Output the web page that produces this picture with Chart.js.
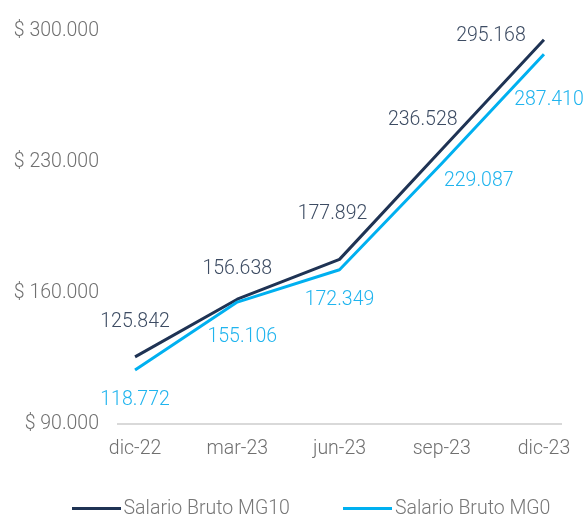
<!DOCTYPE html>
<html>
<head>
<meta charset="utf-8">
<script src="https://cdn.jsdelivr.net/npm/chart.js"></script>
<style>
  body { margin: 0; background: #fff; }
  #wrap { position: relative; width: 585px; height: 515px; }
  #legend {
    position: absolute; left: 0; top: 496px; width: 585px; box-sizing: border-box;
    padding-left: 37px; display: flex; justify-content: center; gap: 53px;
    font: 300 19.5px Roboto, sans-serif; color: #767676;
  }
  #legend .item { display: flex; align-items: center; gap: 3px; line-height: 24px; }
  #legend .swatch { width: 49px; height: 3px; }
</style>
</head>
<body>
<div id="wrap">
  <canvas id="myChart" width="585" height="515"></canvas>
  <div id="legend"></div>
</div>
<script>
// periods on the x axis
var categories = ["dic-22", "mar-23", "jun-23", "sep-23", "dic-23"];
// gross salary, two series
var salarioMG10 = [125842, 156638, 177892, 236528, 295168];
var salarioMG0 = [118772, 155106, 172349, 229087, 287410];
// y axis ticks
var yTicks = [90000, 160000, 230000, 300000];

var fontFamily = "Roboto, 'Open Sans', sans-serif";

function miles(v) {
  return String(v).replace(/\B(?=(\d{3})+(?!\d))/g, ".");
}

function toPoints(values) {
  return values.map(function (v, i) { return { x: i, y: v }; });
}

// where each value label sits relative to its point
var labelOffsets = [
  [[0, -35], [0, -30], [-7, -45], [-19, -29], [-53, -4]],
  [[0, 30], [5, 35], [0, 30], [37, 18], [5, 46]]
];

var valueLabels = {
  id: "valueLabels",
  afterDatasetsDraw: function (chart) {
    var ctx = chart.ctx;
    ctx.save();
    ctx.font = "300 19.5px " + fontFamily;
    ctx.textAlign = "center";
    ctx.textBaseline = "middle";
    chart.data.datasets.forEach(function (ds, d) {
      var meta = chart.getDatasetMeta(d);
      ctx.fillStyle = ds.labelColor;
      meta.data.forEach(function (pt, i) {
        var off = labelOffsets[d][i];
        ctx.fillText(miles(ds.data[i].y), pt.x + off[0], pt.y + off[1]);
      });
    });
    ctx.restore();
  }
};

var ctx = document.getElementById("myChart").getContext("2d");
var myChart = new Chart(ctx, {
  type: "line",
  data: {
    datasets: [
      {
        label: "Salario Bruto MG10",
        data: toPoints(salarioMG10),
        borderColor: "#1F3354",
        labelColor: "#3D4C63",
        borderWidth: 3,
        pointRadius: 0,
        tension: 0,
        borderJoinStyle: "round",
        order: 1,
      },
      {
        label: "Salario Bruto MG0",
        data: toPoints(salarioMG0),
        borderColor: "#00B0F0",
        labelColor: "#20B4EE",
        borderWidth: 3,
        pointRadius: 0,
        tension: 0,
        borderJoinStyle: "round",
        order: 0,
      },
    ],
  },
  options: {
    responsive: false,
    animation: false,
    devicePixelRatio: 1,
    layout: { padding: { top: 26, right: 24, bottom: 51, left: 0 } },
    plugins: {
      legend: { display: false },
      tooltip: { enabled: false },
    },
    scales: {
      x: {
        type: "linear",
        min: -0.1667,
        max: 4.1667,
        afterBuildTicks: function (scale) {
          scale.ticks = categories.map(function (c, i) { return { value: i }; });
        },
        afterFit: function (scale) { scale.height = 40; },
        grid: { display: false, drawTicks: false },
        border: { display: true, color: "#D9D9D9", width: 2 },
        ticks: {
          padding: 13,
          color: "#707070",
          font: { family: fontFamily, size: 19.5, weight: "300" },
          callback: function (v) { return categories[v]; },
        },
      },
      y: {
        min: yTicks[0],
        max: yTicks[yTicks.length - 1],
        afterBuildTicks: function (scale) {
          scale.ticks = yTicks.map(function (v) { return { value: v }; });
        },
        afterFit: function (scale) { scale.width = 118; },
        grid: { display: false, drawTicks: false },
        border: { display: false },
        ticks: {
          padding: 19,
          color: "#707070",
          font: { family: fontFamily, size: 19.5, weight: "300" },
          callback: function (v) { return "$ " + miles(v); },
        },
      },
    },
  },
  plugins: [valueLabels],
});

// legend built from the chart's datasets
var legend = document.getElementById("legend");
myChart.data.datasets.forEach(function (ds) {
  var item = document.createElement("div");
  item.className = "item";
  var sw = document.createElement("span");
  sw.className = "swatch";
  sw.style.background = ds.borderColor;
  var txt = document.createElement("span");
  txt.textContent = ds.label;
  item.appendChild(sw);
  item.appendChild(txt);
  legend.appendChild(item);
});
</script>
</body>
</html>
